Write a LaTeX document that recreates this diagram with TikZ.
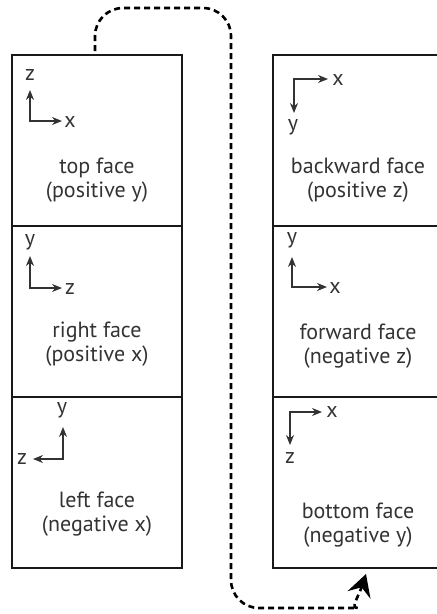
\documentclass[tikz,border=0pt]{standalone}
\usepackage{fontspec}
\setmainfont{PT Sans}
\usetikzlibrary{positioning,arrows.meta}

\begin{document}
\begin{tikzpicture}[x=1pt, y=-1pt,
  face/.style={draw=black!90, line width=2.6pt, minimum width=170pt, minimum height=171pt, outer sep=0pt, inner sep=0pt},
  facetext/.style={align=center, font=\fontsize{22}{24}\selectfont, text=black!80},
  axis/.style={{Stealth[length=10pt,width=8pt]}-{Stealth[length=10pt,width=8pt]}, line width=1.2pt, draw=black!80},
  axislabel/.style={font=\fontsize{22}{24}\selectfont, text=black!80, inner sep=0pt},
  flow/.style={dash pattern=on 6pt off 4pt, line width=2.6pt, -{Stealth[length=22pt,width=24pt,inset=8pt]}}]

  \useasboundingbox (0,0) rectangle (437,614);

  % the six faces, two columns
  \node[face] (top) at (97,140.5) {};
  \node[face, below=0pt of top] (right) {};
  \node[face, below=0pt of right] (left) {};
  \node[face, right=91pt of top] (backward) {};
  \node[face, below=0pt of backward] (forward) {};
  \node[face, below=0pt of forward] (bottom) {};

  % face names
  \node[facetext] (topText) at ([yshift=-40pt]top.center) {top face\\(positive y)};
  \node[facetext] (rightText) at ([yshift=-33pt]right.center) {right face\\(positive x)};
  \node[facetext] (leftText) at ([yshift=-32pt]left.center) {left face\\(negative x)};
  \node[facetext] (backwardText) at ([yshift=-40pt]backward.center) {backward face\\(positive z)};
  \node[facetext] (forwardText) at ([yshift=-35pt]forward.center) {forward face\\(negative z)};
  \node[facetext] (bottomText) at ([yshift=-43pt]bottom.center) {bottom face\\(negative y)};

  % axes in each face
  \draw[axis] ([shift={(18,35)}]top.north west) |- ([shift={(50,66)}]top.north west);
  \node[axislabel] (topZ) at ([shift={(18,20)}]top.north west) {z};
  \node[axislabel] (topX) at ([shift={(58,67)}]top.north west) {x};

  \draw[axis] ([shift={(18,30)}]right.north west) |- ([shift={(50,62)}]right.north west);
  \node[axislabel] (rightY) at ([shift={(18,16)}]right.north west) {y};
  \node[axislabel] (rightZ) at ([shift={(58,63)}]right.north west) {z};

  \draw[axis] ([shift={(51,30)}]left.north west) |- ([shift={(21,62)}]left.north west);
  \node[axislabel] (leftY) at ([shift={(50,13)}]left.north west) {y};
  \node[axislabel] (leftZ) at ([shift={(10,62)}]left.north west) {z};

  \draw[axis] ([shift={(21,58)}]backward.north west) |- ([shift={(55,24)}]backward.north west);
  \node[axislabel] (backwardX) at ([shift={(65,25)}]backward.north west) {x};
  \node[axislabel] (backwardY) at ([shift={(20,72)}]backward.north west) {y};

  \draw[axis] ([shift={(19,31)}]forward.north west) |- ([shift={(54,61)}]forward.north west);
  \node[axislabel] (forwardY) at ([shift={(19,14)}]forward.north west) {y};
  \node[axislabel] (forwardX) at ([shift={(62,62)}]forward.north west) {x};

  \draw[axis] ([shift={(17,48)}]bottom.north west) |- ([shift={(49,15)}]bottom.north west);
  \node[axislabel] (bottomX) at ([shift={(59,15)}]bottom.north west) {x};
  \node[axislabel] (bottomZ) at ([shift={(17,61)}]bottom.north west) {z};

  % unfolding path from the top face round to the bottom face
  \draw[flow] [rounded corners=28pt] ([xshift=-2pt,yshift=4pt]top.north) |- (231,8) |- (330,608)
    [sharp corners] .. controls (350,608) and (358,598) .. ([xshift=8pt,yshift=-6pt]bottom.south);
\end{tikzpicture}
\end{document}
